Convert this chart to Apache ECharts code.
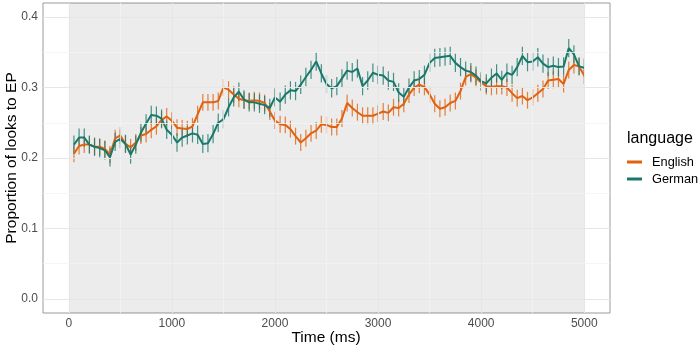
<!DOCTYPE html>
<html>
<head>
<meta charset="utf-8">
<script src="https://cdn.jsdelivr.net/npm/echarts@6/dist/echarts.min.js"></script>
<style>
html,body{margin:0;padding:0;background:#fff;}
#chart{width:699px;height:349px;}
</style>
</head>
<body>
<div id="chart"></div>
<script>
var times = [50,100,150,200,250,300,350,400,450,500,
550,600,650,700,750,800,850,900,950,1000,
1050,1100,1150,1200,1250,1300,1350,1400,1450,1500,
1550,1600,1650,1700,1750,1800,1850,1900,1950,2000,
2050,2100,2150,2200,2250,2300,2350,2400,2450,2500,
2550,2600,2650,2700,2750,2800,2850,2900,2950,3000,
3050,3100,3150,3200,3250,3300,3350,3400,3450,3500,
3550,3600,3650,3700,3750,3800,3850,3900,3950,4000,
4050,4100,4150,4200,4250,4300,4350,4400,4450,4500,
4550,4600,4650,4700,4750,4800,4850,4900,4950,5000];

var english = [0.206,0.217,0.219,0.219,0.216,0.216,0.213,0.205,0.228,0.232,
0.220,0.215,0.222,0.232,0.234,0.240,0.245,0.254,0.259,0.253,
0.243,0.242,0.241,0.245,0.262,0.279,0.279,0.279,0.281,0.300,
0.297,0.290,0.284,0.282,0.281,0.282,0.281,0.278,0.266,0.253,
0.248,0.247,0.241,0.231,0.222,0.228,0.235,0.239,0.248,0.247,
0.244,0.244,0.256,0.278,0.271,0.265,0.260,0.260,0.260,0.263,
0.266,0.264,0.272,0.271,0.277,0.290,0.300,0.304,0.301,0.290,
0.277,0.270,0.272,0.278,0.281,0.295,0.315,0.319,0.314,0.307,
0.302,0.301,0.302,0.302,0.300,0.292,0.285,0.288,0.282,0.286,
0.292,0.298,0.310,0.311,0.312,0.305,0.325,0.332,0.330,0.317];

var german = [0.219,0.229,0.229,0.219,0.216,0.214,0.211,0.201,0.223,0.227,
0.220,0.205,0.219,0.236,0.249,0.261,0.260,0.256,0.240,0.233,
0.222,0.229,0.232,0.235,0.233,0.220,0.221,0.234,0.250,0.255,
0.272,0.286,0.294,0.283,0.279,0.279,0.277,0.275,0.271,0.286,
0.280,0.290,0.296,0.295,0.304,0.315,0.325,0.337,0.320,0.305,
0.299,0.302,0.313,0.324,0.322,0.327,0.302,0.310,0.321,0.318,
0.317,0.310,0.308,0.293,0.287,0.300,0.310,0.312,0.318,0.335,
0.342,0.343,0.344,0.345,0.335,0.329,0.324,0.322,0.317,0.309,
0.306,0.314,0.320,0.311,0.321,0.318,0.329,0.345,0.336,0.337,
0.343,0.334,0.329,0.331,0.329,0.330,0.356,0.347,0.330,0.328];

var englishSE = 0.012;
var germanSE = 0.013;

var xTicks = [0,1000,2000,3000,4000,5000];
var xMinor = [500,1500,2500,3500,4500];
var yTicks = [0,0.1,0.2,0.3,0.4];
var yMinor = [0.05,0.15,0.25,0.35];
var shadeRange = [0,5000];

var colEnglish = '#E0610F';
var colGerman = '#18796A';

function pairs(vals){ return times.map(function(t,i){ return [t, vals[i]]; }); }
function bars(vals, se){ return times.map(function(t,i){ return [t, vals[i]-se, vals[i]+se]; }); }

function errRender(color){
  return function(params, api){
    var p1 = api.coord([api.value(0), api.value(1)]);
    var p2 = api.coord([api.value(0), api.value(2)]);
    return {type:'line', shape:{x1:p1[0], y1:p1[1], x2:p2[0], y2:p2[1]},
      style:{stroke:color, lineWidth:1.2, opacity:0.8}};
  };
}

var gridMarks = [];
xTicks.forEach(function(v){ gridMarks.push({xAxis:v, lineStyle:{color:'#E6E6E6', width:1.1, type:'solid'}}); });
xMinor.forEach(function(v){ gridMarks.push({xAxis:v, lineStyle:{color:'#F2F2F2', width:0.8, type:'solid'}}); });
yTicks.forEach(function(v){ gridMarks.push({yAxis:v, lineStyle:{color:'#E6E6E6', width:1.1, type:'solid'}}); });
yMinor.forEach(function(v){ gridMarks.push({yAxis:v, lineStyle:{color:'#F2F2F2', width:0.8, type:'solid'}}); });

var chart = echarts.init(document.getElementById('chart'), null, {renderer:'canvas'});
chart.setOption({
  animation:false,
  textStyle:{fontFamily:'Liberation Sans, Arial, sans-serif'},
  grid:{left:43, right:89, top:3, bottom:36, show:true, borderColor:'#9A9A9A', borderWidth:1, backgroundColor:'transparent'},
  xAxis:{type:'value', min:-250, max:5250,
    axisLine:{show:false},
    splitLine:{show:false},
    axisTick:{show:true, customValues:xTicks, length:3, lineStyle:{color:'#4D4D4D', width:1}},
    axisLabel:{customValues:xTicks, color:'#4D4D4D', fontSize:12, margin:5,
      formatter:function(v){ return String(Math.round(v)); }}
  },
  yAxis:{type:'value', min:-0.02, max:0.42,
    axisLine:{show:false},
    splitLine:{show:false},
    axisTick:{show:true, customValues:yTicks, length:3, lineStyle:{color:'#4D4D4D', width:1}},
    axisLabel:{customValues:yTicks, color:'#4D4D4D', fontSize:12, margin:5,
      formatter:function(v){ return v.toFixed(1); }}
  },
  legend:{
    orient:'vertical', left:627, top:155, padding:0, itemWidth:15, itemHeight:3, itemGap:3,
    icon:'rect',
    textStyle:{fontSize:12.8, color:'#000', lineHeight:14, padding:[0,0,0,5]},
    data:[{name:'English', itemStyle:{color:colEnglish}}, {name:'German', itemStyle:{color:colGerman}}]
  },
  graphic:[
    {type:'text', x:326, y:338, style:{text:'Time (ms)', fontSize:15.5, fill:'#000', textAlign:'center', textVerticalAlign:'middle', fontFamily:'Liberation Sans, Arial'}},
    {type:'text', x:12, y:158, rotation:Math.PI/2, style:{text:'Proportion of looks to EP', fontSize:15.5, fill:'#000', textAlign:'center', textVerticalAlign:'middle', fontFamily:'Liberation Sans, Arial'}},
    {type:'text', x:627, y:139, style:{text:'language', fontSize:16, fill:'#000', textAlign:'left', textVerticalAlign:'middle', fontFamily:'Liberation Sans, Arial'}}
  ],
  series:[
    {name:'gridlines', type:'line', data:[], silent:true, z:0,
      markLine:{silent:true, symbol:['none','none'], label:{show:false}, animation:false, data:gridMarks}},
    {name:'shade', type:'line', data:[], silent:true, z:1,
      markArea:{silent:true, itemStyle:{color:'rgba(0,0,0,0.075)'}, data:[[{xAxis:shadeRange[0]},{xAxis:shadeRange[1]}]]}},
    {name:'English', type:'custom', renderItem:errRender(colEnglish), data:bars(english, englishSE), z:2, silent:true},
    {name:'German', type:'custom', renderItem:errRender(colGerman), data:bars(german, germanSE), z:2, silent:true},
    {name:'English', type:'line', data:pairs(english), showSymbol:false, z:3,
      lineStyle:{color:colEnglish, width:2}, itemStyle:{color:colEnglish}},
    {name:'German', type:'line', data:pairs(german), showSymbol:false, z:4,
      lineStyle:{color:colGerman, width:2}, itemStyle:{color:colGerman}}
  ]
});
</script>
</body>
</html>
